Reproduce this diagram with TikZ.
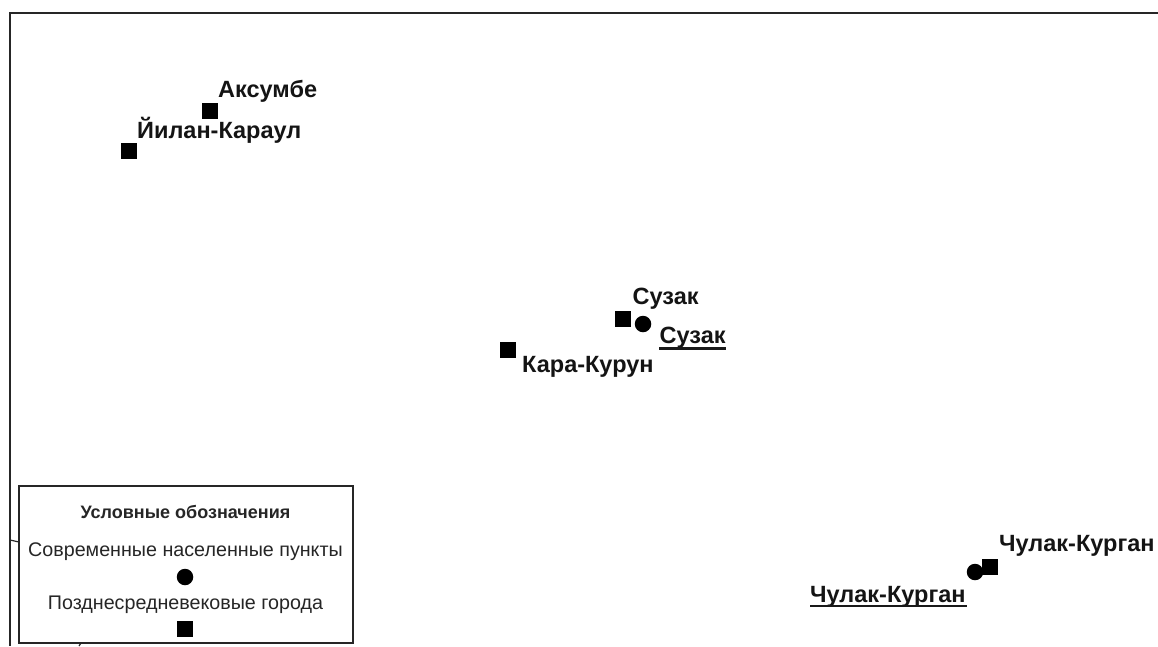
\documentclass[tikz,border=0pt]{standalone}
\usepackage{fontspec}
\setmainfont{Liberation Sans}
\tikzset{
  lab/.style={font=\fontsize{23.5}{26}\selectfont\bfseries, inner sep=0pt, anchor=base west, text=black!92},
  leg/.style={font=\fontsize{19.7}{22}\selectfont, inner sep=0pt, anchor=base, text=black!85},
  sq/.style={fill=black, draw=none, minimum size=16.5pt, inner sep=0pt, rectangle},
  ci/.style={fill=black, draw=none, minimum size=16.5pt, inner sep=0pt, circle},
  frameline/.style={draw=black!85, line width=1.8pt},
  ul/.style={draw=black!90, line width=2.2pt}
}
\begin{document}
\begin{tikzpicture}[x=1pt,y=-1pt]
\useasboundingbox (0,0) rectangle (1158,646);
\fill[white] (0,0) rectangle (1158,646);
\coordinate (fa) at (1158,13);
\coordinate (fb) at (10,13);
\coordinate (fc) at (10,646);
\draw[frameline] (fa) -- (fb) -- (fc);
\coordinate (t1) at (10,540);
\coordinate (t2) at (19,542);
\draw[frameline, line width=1.2pt] (t1) -- (t2);
\coordinate (t3) at (81,643);
\coordinate (t4) at (79,646);
\draw[frameline, line width=1.2pt] (t3) -- (t4);
\node[draw=black!85, line width=1.5pt, fill=white, minimum width=334pt, minimum height=157pt, inner sep=0pt] (legend) at (186,564.5) {};
\node[leg, font=\fontsize{18}{22}\selectfont\bfseries] (legt) at (185.5,518) {Условные обозначения};
\node[leg] (leg1) at (185.5,556) {Современные населенные пункты};
\node[ci] (legc) at (185,577) {};
\node[leg] (leg2) at (185.5,609.5) {Позднесредневековые города};
\node[sq] (legs) at (185,629) {};
\node[sq] (s1) at (210,111) {};
\node[lab] (l1) at (218,97) {Аксумбе};
\node[sq] (s2) at (129,151) {};
\node[lab] (l2) at (137,138) {Йилан-Караул};
\node[sq] (s3) at (623,319) {};
\node[lab] (l3) at (632.5,304) {Сузак};
\node[ci] (c3) at (643,324) {};
\node[lab] (l4) at (659.5,343.5) {Сузак};
\coordinate (u1a) at (659,348.5);
\coordinate (u1b) at (726,348.5);
\draw[ul] (u1a) -- (u1b);
\node[sq] (s4) at (508,350) {};
\node[lab] (l5) at (522,372) {Кара-Курун};
\node[sq] (s5) at (990,567) {};
\node[ci] (c5) at (975,572) {};
\node[lab] (l6) at (999,551) {Чулак-Курган};
\node[lab] (l7) at (810,602) {Чулак-Курган};
\coordinate (u2a) at (810,606);
\coordinate (u2b) at (967,606);
\draw[ul] (u2a) -- (u2b);
\end{tikzpicture}
\end{document}
